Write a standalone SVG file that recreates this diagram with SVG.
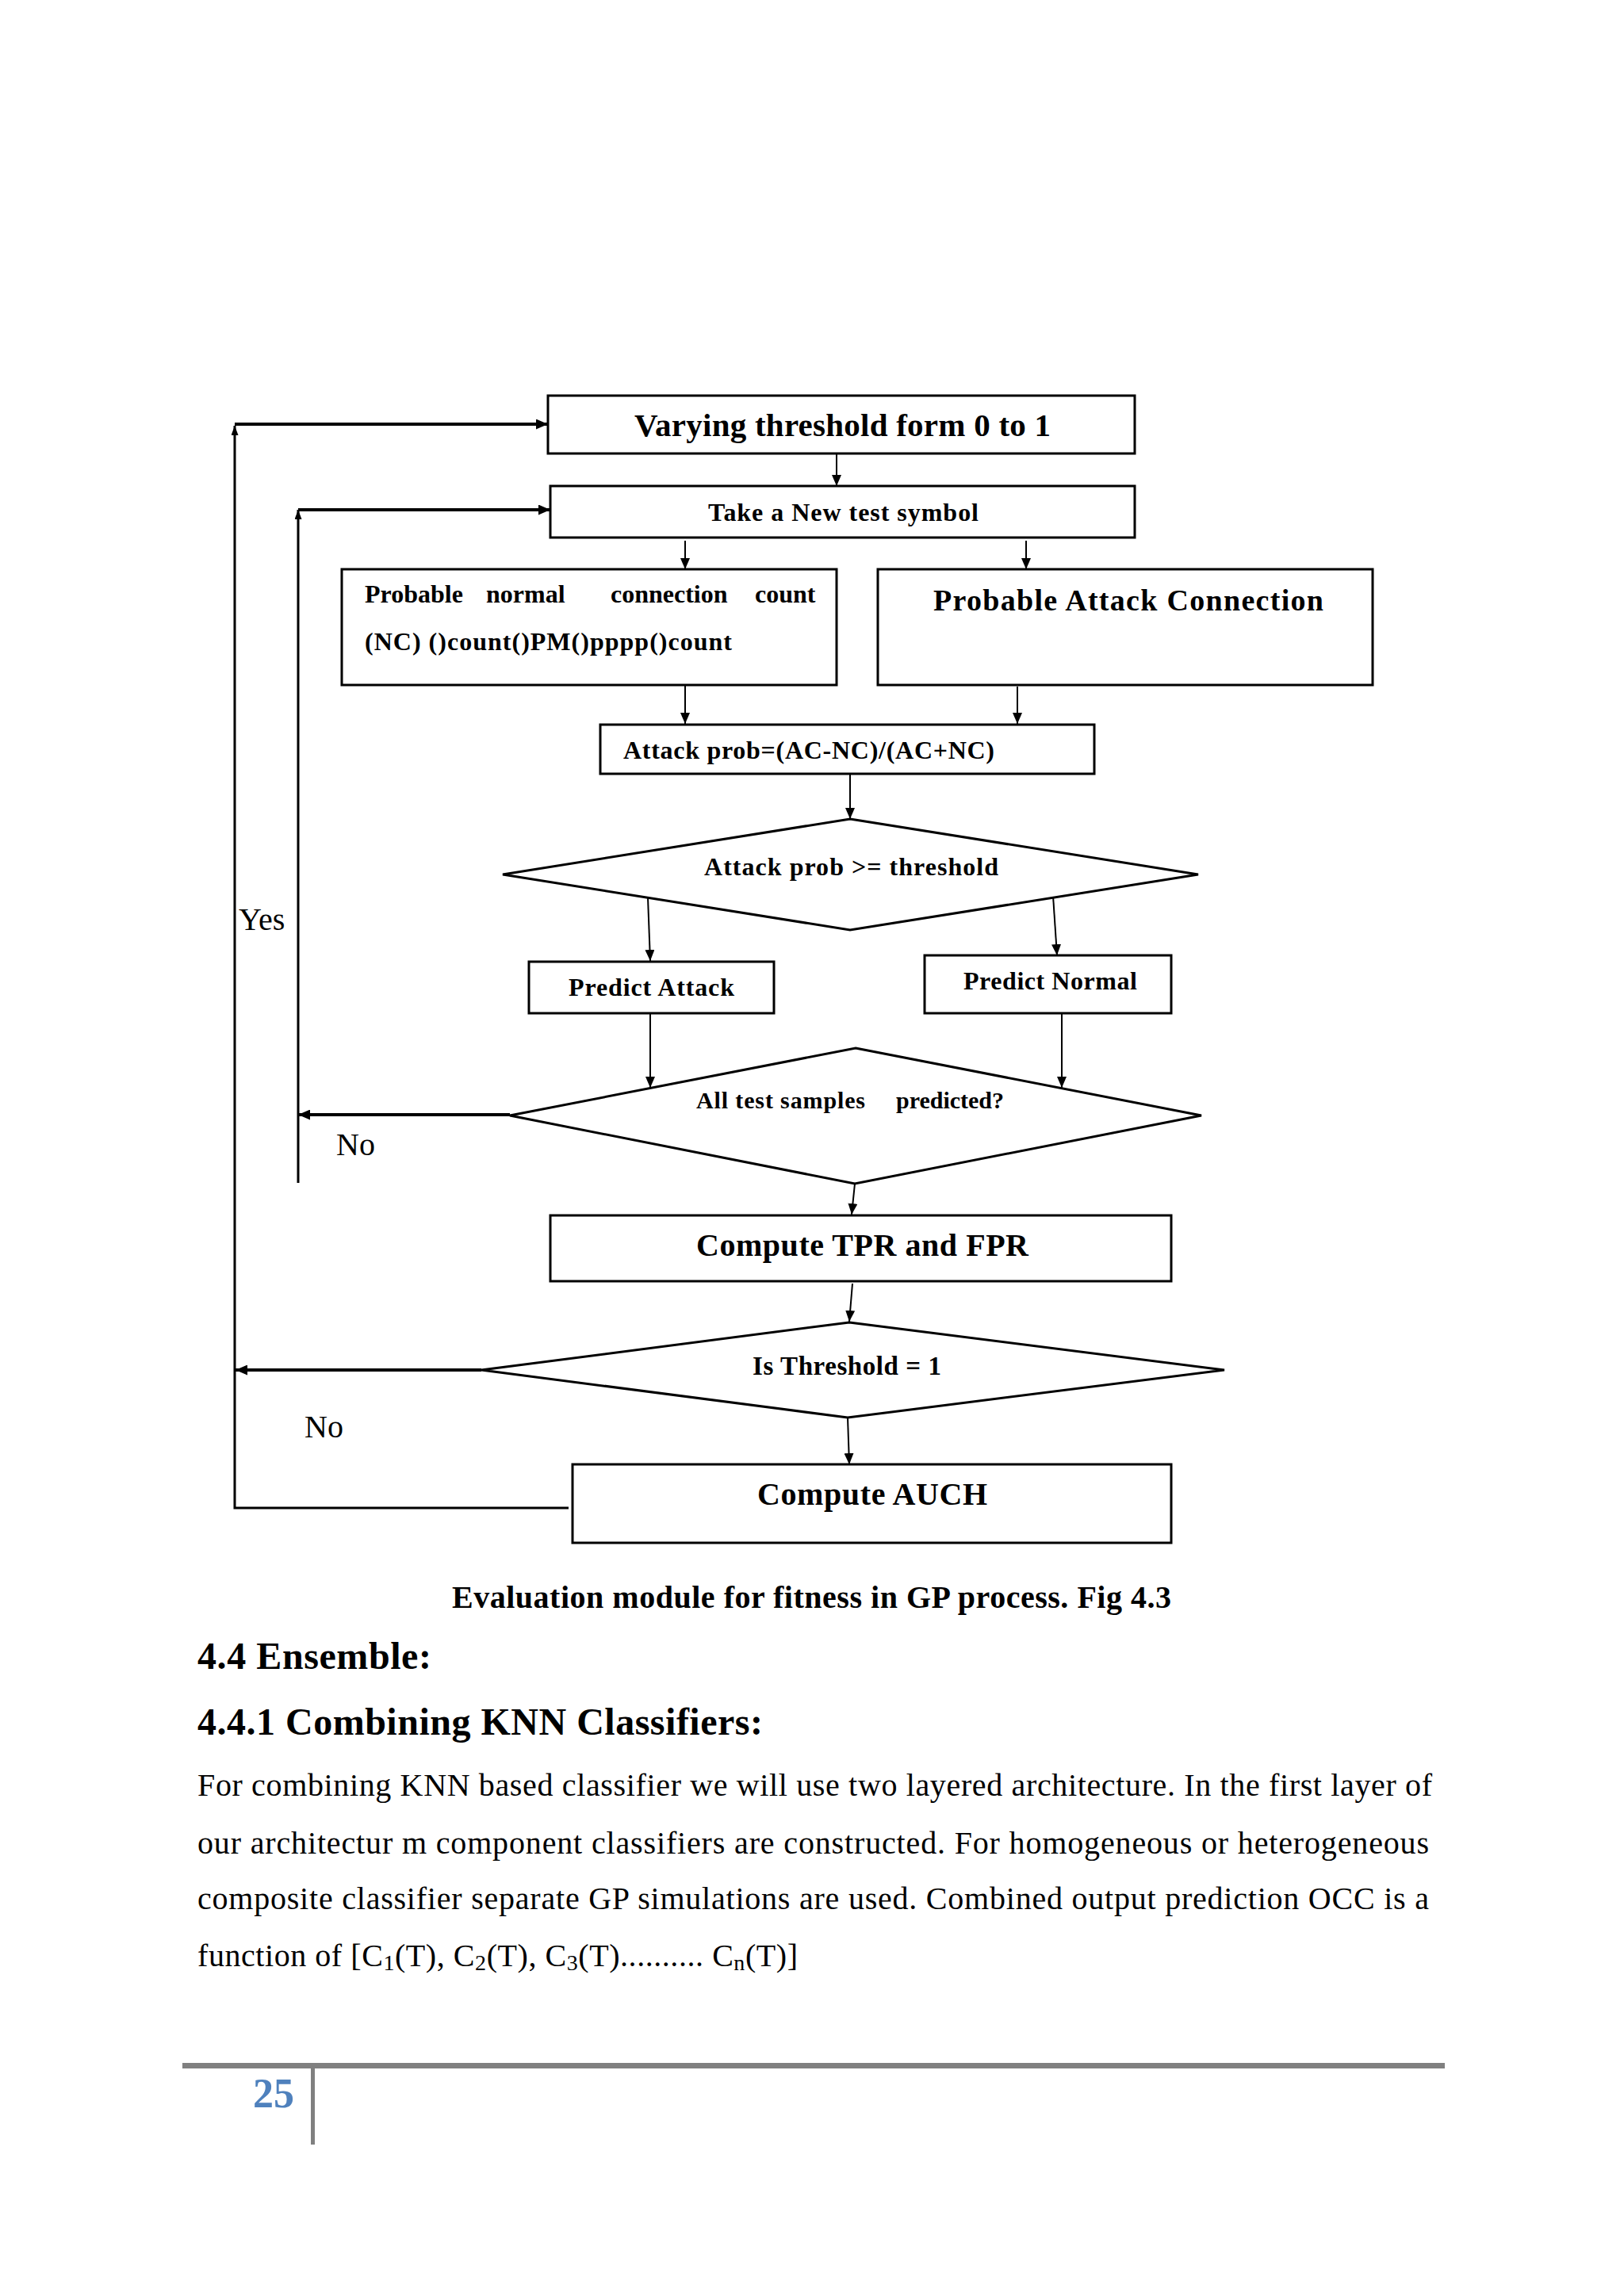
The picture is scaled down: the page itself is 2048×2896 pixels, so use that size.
<svg xmlns="http://www.w3.org/2000/svg" width="2048" height="2896" viewBox="0 0 2048 2896">
<style>
.box{fill:#fff;stroke:#000;stroke-width:3}
.ln{stroke:#000;stroke-width:2;fill:none}
.lt{stroke:#000;stroke-width:4;fill:none}
.lv{stroke:#000;stroke-width:3;fill:none}
.t{font-family:"Liberation Serif","Times New Roman",serif;fill:#000}
.b{font-weight:bold}
</style>
<defs>
<marker id="ah" markerUnits="userSpaceOnUse" markerWidth="14" markerHeight="12" viewBox="0 0 14 12" refX="14" refY="6" orient="auto"><path d="M0,0 L14,6 L0,12 Z" fill="#000"/></marker>
<marker id="aht" markerUnits="userSpaceOnUse" markerWidth="15" markerHeight="13" viewBox="0 0 15 13" refX="15" refY="6.5" orient="auto"><path d="M0,0 L15,6.5 L0,13 Z" fill="#000"/></marker>
<marker id="ahu" markerUnits="userSpaceOnUse" markerWidth="12" markerHeight="9" viewBox="0 0 12 9" refX="12" refY="4.5" orient="auto"><path d="M0,0 L12,4.5 L0,9 Z" fill="#000"/></marker>
</defs>
<rect width="2048" height="2896" fill="#fff"/>

<g id="connectors">
<line class="ln" x1="1055" y1="573" x2="1055" y2="613" marker-end="url(#ah)"/>
<line class="ln" x1="864" y1="682" x2="864" y2="718" marker-end="url(#ah)"/>
<line class="ln" x1="1294" y1="682" x2="1294" y2="718" marker-end="url(#ah)"/>
<line class="ln" x1="864" y1="864" x2="864" y2="913" marker-end="url(#ah)"/>
<line class="ln" x1="1283" y1="866" x2="1283" y2="913" marker-end="url(#ah)"/>
<line class="ln" x1="1072" y1="977" x2="1072" y2="1033" marker-end="url(#ah)"/>
<line class="ln" x1="817" y1="1132" x2="820" y2="1212" marker-end="url(#ah)"/>
<line class="ln" x1="1328" y1="1130" x2="1333" y2="1205" marker-end="url(#ah)"/>
<line class="ln" x1="820" y1="1278" x2="820" y2="1372" marker-end="url(#ah)"/>
<line class="ln" x1="1339" y1="1278" x2="1339" y2="1372" marker-end="url(#ah)"/>
<line class="ln" x1="1078" y1="1493" x2="1074" y2="1532" marker-end="url(#ah)"/>
<line class="ln" x1="1075" y1="1619" x2="1071" y2="1667" marker-end="url(#ah)"/>
<line class="ln" x1="1069" y1="1788" x2="1071" y2="1847" marker-end="url(#ah)"/>
<!-- inner loop (No from all samples) -->
<line class="lt" x1="643" y1="1406" x2="376" y2="1406" marker-end="url(#aht)"/>
<line class="lv" x1="376" y1="1492" x2="376" y2="643" marker-end="url(#ahu)"/>
<line class="lt" x1="376" y1="643" x2="694" y2="643" marker-end="url(#aht)"/>
<!-- outer loop (No from threshold) -->
<line class="lt" x1="607" y1="1728" x2="297" y2="1728" marker-end="url(#aht)"/>
<polyline class="lv" points="717,1902 296,1902 296,537" marker-end="url(#ahu)"/>
<line class="lt" x1="296" y1="535" x2="691" y2="535" marker-end="url(#aht)"/>
</g>

<g id="n1"><rect class="box" x="691" y="499" width="740" height="73"/>
<text class="t b" x="800" y="550" font-size="41" textLength="525">Varying threshold form 0 to 1</text></g>

<g id="n2"><rect class="box" x="694" y="613" width="737" height="65"/>
<text class="t b" x="893" y="657" font-size="32" textLength="341">Take a New test symbol</text></g>

<g id="n3"><rect class="box" x="431" y="718" width="624" height="146"/>
<text class="t b" y="760" font-size="32"><tspan x="460">Probable</tspan><tspan x="613">normal</tspan><tspan x="770">connection</tspan><tspan x="952">count</tspan></text>
<text class="t b" x="460" y="820" font-size="32" textLength="463">(NC)  ()count()PM()pppp()count</text></g>

<g id="n4"><rect class="box" x="1107" y="718" width="624" height="146"/>
<text class="t b" x="1177" y="770" font-size="38" textLength="492">Probable Attack Connection</text></g>

<g id="n5"><rect class="box" x="757" y="914" width="623" height="62"/>
<text class="t b" x="786" y="957" font-size="32" textLength="468">Attack prob=(AC-NC)/(AC+NC)</text></g>

<g id="n6"><polygon class="box" points="1072,1033 1511,1103 1072,1173 634,1103"/>
<text class="t b" x="888" y="1104" font-size="32" textLength="371">Attack prob &gt;= threshold</text></g>

<g id="n7"><rect class="box" x="667" y="1213" width="309" height="65"/>
<text class="t b" x="717" y="1256" font-size="32" textLength="209">Predict Attack</text></g>

<g id="n8"><rect class="box" x="1166" y="1205" width="311" height="73"/>
<text class="t b" x="1215" y="1248" font-size="32" textLength="219">Predict Normal</text></g>

<g id="n9"><polygon class="box" points="1079,1322 1515,1407 1078,1493 643,1407"/>
<text class="t b" y="1398" font-size="30"><tspan x="878" textLength="213">All test samples</tspan><tspan x="1130" textLength="136">predicted?</tspan></text></g>

<g id="n10"><rect class="box" x="694" y="1533" width="783" height="83"/>
<text class="t b" x="878" y="1584" font-size="40" textLength="419">Compute TPR and FPR</text></g>

<g id="n11"><polygon class="box" points="1071,1668 1544,1728 1069,1788 607,1728"/>
<text class="t b" x="949" y="1734" font-size="33" textLength="238">Is Threshold = 1</text></g>

<g id="n12"><rect class="box" x="722" y="1847" width="755" height="99"/>
<text class="t b" x="955" y="1898" font-size="40" textLength="290">Compute AUCH</text></g>

<g id="labels">
<text class="t" x="301" y="1173" font-size="40">Yes</text>
<text class="t" x="424" y="1457" font-size="40">No</text>
<text class="t" x="384" y="1813" font-size="40">No</text>
</g>

<g id="page-text">
<text class="t b" x="570" y="2028" font-size="40" textLength="907">Evaluation module for fitness in GP process. Fig 4.3</text>
<text class="t b" x="249" y="2105" font-size="48" textLength="295">4.4 Ensemble:</text>
<text class="t b" x="249" y="2188" font-size="48" textLength="713">4.4.1 Combining KNN Classifiers:</text>
<text class="t" x="249" y="2265" font-size="40" textLength="1557">For combining KNN based classifier we will use two layered architecture. In the first layer of</text>
<text class="t" x="249" y="2338" font-size="40" textLength="1553">our architectur m component classifiers are constructed.  For homogeneous or heterogeneous</text>
<text class="t" x="249" y="2408" font-size="40" textLength="1553">composite classifier separate GP simulations are used.  Combined output prediction OCC is a</text>
<text class="t" x="249" y="2480" font-size="40" textLength="757">function  of [C<tspan font-size="28" dy="5">1</tspan><tspan dy="-5">(T), C</tspan><tspan font-size="28" dy="5">2</tspan><tspan dy="-5">(T), C</tspan><tspan font-size="28" dy="5">3</tspan><tspan dy="-5">(T).......... C</tspan><tspan font-size="28" dy="5">n</tspan><tspan dy="-5">(T)]</tspan></text>
</g>

<g id="footer">
<rect x="230" y="2602" width="1592" height="7" fill="#808080"/>
<rect x="392" y="2609" width="5" height="96" fill="#808080"/>
<text class="t b" x="371" y="2658" font-size="52" text-anchor="end" fill="#4F81BD" style="fill:#4F81BD">25</text>
</g>
</svg>
